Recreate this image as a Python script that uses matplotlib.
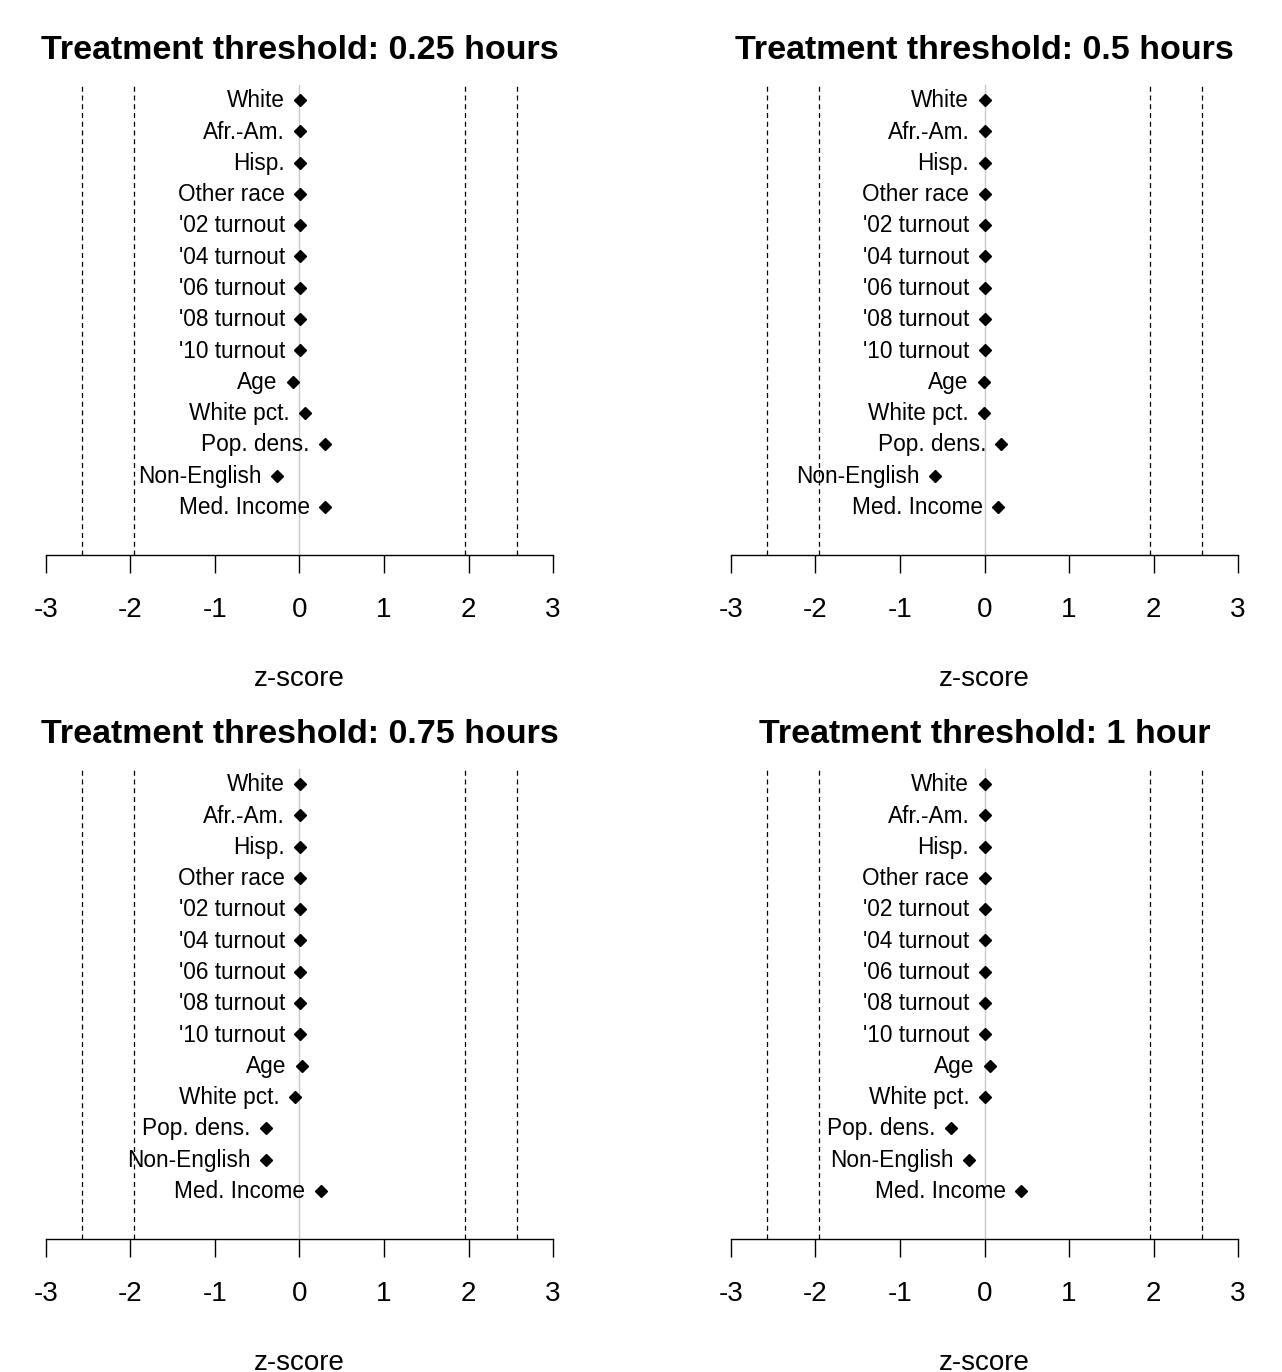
import matplotlib
matplotlib.use("Agg")
import matplotlib.pyplot as plt

plt.rcParams['font.family'] = ['Liberation Sans', 'DejaVu Sans']

covariates = ["White", "Afr.-Am.", "Hisp.", "Other race", "'02 turnout",
              "'04 turnout", "'06 turnout", "'08 turnout", "'10 turnout",
              "Age", "White pct.", "Pop. dens.", "Non-English", "Med. Income"]

titles = ["Treatment threshold: 0.25 hours", "Treatment threshold: 0.5 hours",
          "Treatment threshold: 0.75 hours", "Treatment threshold: 1 hour"]

z_025 = [0.01, 0.01, 0.01, 0.01, 0.01, 0.01, 0.01, 0.01, 0.01,
         -0.08, 0.06, 0.30, -0.27, 0.30]
z_050 = [0.00, 0.00, 0.00, 0.00, 0.00, 0.00, 0.00, 0.00, 0.00,
         -0.01, -0.01, 0.20, -0.59, 0.16]
z_075 = [0.01, 0.01, 0.01, 0.01, 0.01, 0.01, 0.01, 0.01, 0.01,
         0.03, -0.05, -0.40, -0.40, 0.25]
z_100 = [0.00, 0.00, 0.00, 0.00, 0.00, 0.00, 0.00, 0.00, 0.00,
         0.06, 0.00, -0.40, -0.18, 0.43]

critical = [-2.576, -1.96, 1.96, 2.576]
xticks = [-3, -2, -1, 0, 1, 2, 3]

W, H = 1282, 1372
fig = plt.figure(figsize=(W / 100, H / 100), dpi=100)


def add_panel(left_px, top_px, z, title):
    # plot region in pixels: x spans -3.24..3.24, y from top_px to top_px+470
    width = 573.3 - 25.7
    height = 470
    ax = fig.add_axes([left_px / W, 1 - (top_px + height) / H, width / W, height / H])
    ax.set_xlim(-3.24, 3.24)
    ax.set_ylim(14.54, -0.48)
    ypos = list(range(len(covariates)))

    ax.axvline(0, color="#c8c8c8", lw=1.0, zorder=1)
    for c in critical:
        ax.axvline(c, color="black", lw=0.9, ls=(0, (4, 3)), zorder=1)

    ax.plot(z, ypos, ls="none", marker="D", ms=6.5, color="black", zorder=3)
    for name, x, y in zip(covariates, z, ypos):
        ax.annotate(name, (x, y), xytext=(-11, -0.5), textcoords="offset points",
                    ha="right", va="center", fontsize=16.3, zorder=4)

    for s in ["top", "left", "right"]:
        ax.spines[s].set_visible(False)
    ax.spines["bottom"].set_bounds(-3, 3)
    ax.spines["bottom"].set_linewidth(1.0)
    ax.set_yticks([])
    ax.set_xticks(xticks)
    ax.set_xticklabels([str(t) for t in xticks])
    ax.tick_params(axis="x", direction="out", length=13, width=1.0,
                   pad=17.5, labelsize=20)
    ax.set_xlabel("z-score", fontsize=20, labelpad=31)
    ax.set_title(title, fontsize=24.5, fontweight="bold", pad=18.5)
    return ax


add_panel(25.7, 85, z_025, titles[0])
add_panel(710.7, 85, z_050, titles[1])
add_panel(25.7, 769, z_075, titles[2])
add_panel(710.7, 769, z_100, titles[3])

fig.savefig("out.png", dpi=100, facecolor="white")
